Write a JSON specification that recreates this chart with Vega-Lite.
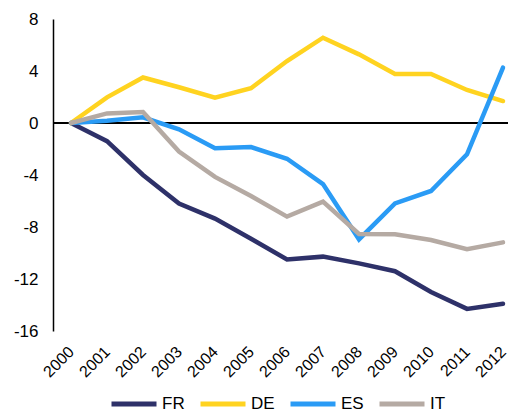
{
  "$schema": "https://vega.github.io/schema/vega-lite/v6.json",
  "width": 455,
  "height": 312,
  "autosize": {"type": "none"},
  "padding": {"left": 53, "top": 19, "right": 0, "bottom": 83},
  "background": "white",
  "config": {
    "view": {"stroke": null},
    "font": "Liberation Sans"
  },
  "data": {
    "values": [
      {"year": "2000", "country": "FR", "value": 0},
      {"year": "2001", "country": "FR", "value": -1.4},
      {"year": "2002", "country": "FR", "value": -4.0},
      {"year": "2003", "country": "FR", "value": -6.2},
      {"year": "2004", "country": "FR", "value": -7.35},
      {"year": "2005", "country": "FR", "value": -8.9},
      {"year": "2006", "country": "FR", "value": -10.5},
      {"year": "2007", "country": "FR", "value": -10.28},
      {"year": "2008", "country": "FR", "value": -10.8},
      {"year": "2009", "country": "FR", "value": -11.4},
      {"year": "2010", "country": "FR", "value": -13.0},
      {"year": "2011", "country": "FR", "value": -14.3},
      {"year": "2012", "country": "FR", "value": -13.9},
      {"year": "2000", "country": "DE", "value": 0},
      {"year": "2001", "country": "DE", "value": 1.97},
      {"year": "2002", "country": "DE", "value": 3.5},
      {"year": "2003", "country": "DE", "value": 2.75},
      {"year": "2004", "country": "DE", "value": 1.95},
      {"year": "2005", "country": "DE", "value": 2.67},
      {"year": "2006", "country": "DE", "value": 4.77},
      {"year": "2007", "country": "DE", "value": 6.56},
      {"year": "2008", "country": "DE", "value": 5.28},
      {"year": "2009", "country": "DE", "value": 3.77},
      {"year": "2010", "country": "DE", "value": 3.77},
      {"year": "2011", "country": "DE", "value": 2.54},
      {"year": "2012", "country": "DE", "value": 1.69},
      {"year": "2000", "country": "ES", "value": 0},
      {"year": "2001", "country": "ES", "value": 0.18},
      {"year": "2002", "country": "ES", "value": 0.44},
      {"year": "2003", "country": "ES", "value": -0.49},
      {"year": "2004", "country": "ES", "value": -1.95},
      {"year": "2005", "country": "ES", "value": -1.85},
      {"year": "2006", "country": "ES", "value": -2.75},
      {"year": "2007", "country": "ES", "value": -4.7},
      {"year": "2008", "country": "ES", "value": -8.95},
      {"year": "2009", "country": "ES", "value": -6.18},
      {"year": "2010", "country": "ES", "value": -5.23},
      {"year": "2011", "country": "ES", "value": -2.41},
      {"year": "2012", "country": "ES", "value": 4.26},
      {"year": "2000", "country": "IT", "value": 0},
      {"year": "2001", "country": "IT", "value": 0.74},
      {"year": "2002", "country": "IT", "value": 0.85},
      {"year": "2003", "country": "IT", "value": -2.2},
      {"year": "2004", "country": "IT", "value": -4.15},
      {"year": "2005", "country": "IT", "value": -5.62},
      {"year": "2006", "country": "IT", "value": -7.2},
      {"year": "2007", "country": "IT", "value": -6.05},
      {"year": "2008", "country": "IT", "value": -8.54},
      {"year": "2009", "country": "IT", "value": -8.56},
      {"year": "2010", "country": "IT", "value": -9.0},
      {"year": "2011", "country": "IT", "value": -9.7},
      {"year": "2012", "country": "IT", "value": -9.18}
    ]
  },
  "layer": [
    {
      "mark": {"type": "rule", "color": "#000000", "strokeWidth": 2},
      "encoding": {"y": {"datum": 0, "type": "quantitative"}}
    },
    {
      "mark": {"type": "line", "strokeWidth": 4.5, "strokeCap": "round", "strokeJoin": "miter"},
      "encoding": {
        "x": {
          "field": "year",
          "type": "ordinal",
          "scale": {"type": "point", "range": [18, 450], "padding": 0},
          "axis": {
            "title": null,
            "domain": false,
            "ticks": false,
            "labelAngle": -45,
            "labelAlign": "right",
            "labelBaseline": "middle",
            "labelPadding": 18,
            "labelFontSize": 16,
            "labelColor": "#000000",
            "labelFont": "Liberation Sans"
          }
        },
        "y": {
          "field": "value",
          "type": "quantitative",
          "scale": {"domain": [-16, 8], "nice": false, "zero": false},
          "axis": {
            "title": null,
            "values": [-16, -12, -8, -4, 0, 4, 8],
            "labelExpr": "datum.value + ''",
            "grid": false,
            "ticks": false,
            "domain": true,
            "domainColor": "#000000",
            "domainWidth": 1.5,
            "labelPadding": 15,
            "labelFontSize": 17,
            "labelColor": "#000000",
            "labelFont": "Liberation Sans"
          }
        },
        "color": {
          "field": "country",
          "type": "nominal",
          "sort": ["FR", "DE", "ES", "IT"],
          "scale": {
            "domain": ["FR", "DE", "ES", "IT"],
            "range": ["#2E3169", "#FFD320", "#2A9BF5", "#B5AAA3"]
          },
          "legend": {
            "title": null,
            "orient": "none",
            "direction": "horizontal",
            "legendX": 56,
            "legendY": 360,
            "symbolType": "stroke",
            "symbolSize": 2025,
            "symbolStrokeWidth": 5,
            "labelFontSize": 17,
            "labelColor": "#000000",
            "labelFont": "Liberation Sans",
            "labelOffset": 3,
            "columnPadding": 5,
            "padding": 0
          }
        }
      }
    }
  ]
}
